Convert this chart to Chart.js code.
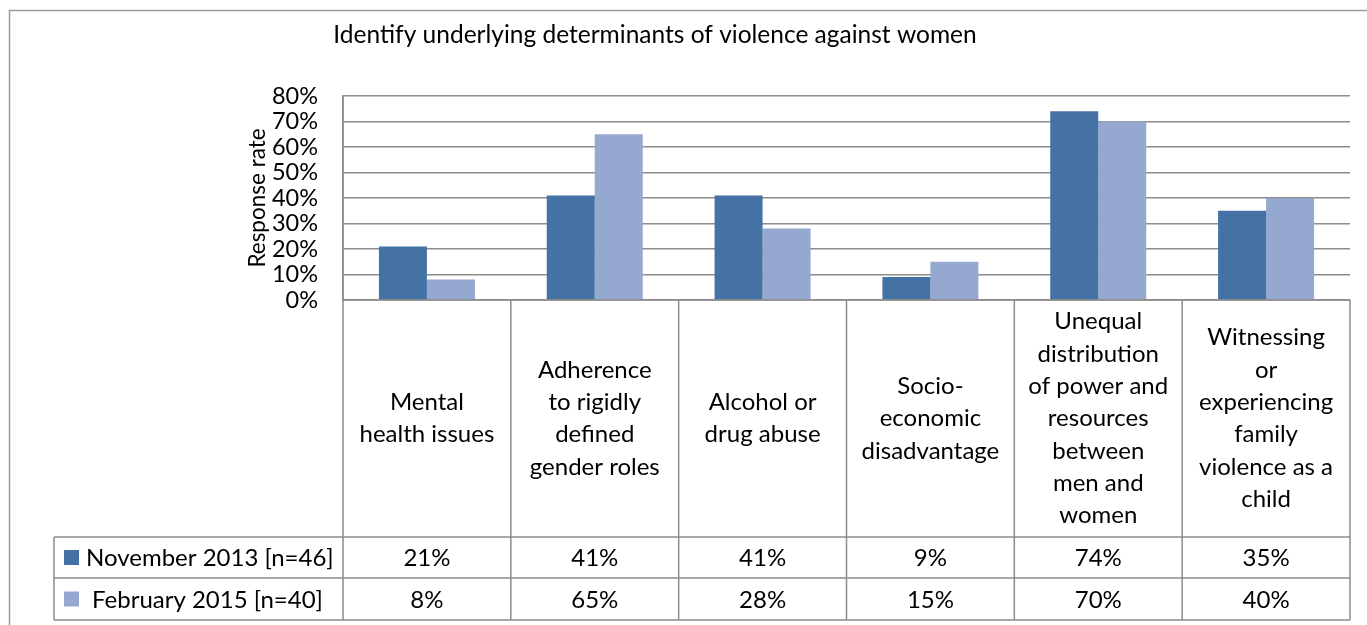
<!DOCTYPE html>
<html>
<head>
<meta charset="utf-8">
<script src="https://cdn.jsdelivr.net/npm/chart.js@4.4.1/dist/chart.umd.min.js"></script>
<style>
  html, body { margin: 0; padding: 0; background: #fff; }
  #wrap { width: 1367px; height: 625px; position: relative; }
</style>
</head>
<body>
<div id="wrap"><canvas id="chart"></canvas></div>
<script>
const chartTitle = 'Identify underlying determinants of violence against women';
const yTitle = 'Response rate';
const categories = [
  ['Mental', 'health issues'],
  ['Adherence', 'to rigidly', 'defined', 'gender roles'],
  ['Alcohol or', 'drug abuse'],
  ['Socio-', 'economic', 'disadvantage'],
  ['Unequal', 'distribution', 'of power and', 'resources', 'between', 'men and', 'women'],
  ['Witnessing', 'or', 'experiencing', 'family', 'violence as a', 'child']
];
const seriesNames = ['November 2013 [n=46]', 'February 2015 [n=40]'];
const nov2013 = [21, 41, 41, 9, 74, 35];
const feb2015 = [8, 65, 28, 15, 70, 40];
const yMax = 80;
const yStep = 10;

const FONT = 'Lato, "Liberation Sans", sans-serif';
const colors = ['#4472a4', '#95a9d0'];
const lineColor = '#8c8c8c';

// draws title, outer frame and the data table under the plot
const tablePlugin = {
  id: 'dataTable',
  afterDraw(chart) {
    const ctx = chart.ctx;
    const x = chart.scales.x;
    const area = chart.chartArea;
    const n = categories.length;
    const cw = (x.right - x.left) / n;
    const rows = [area.bottom, 537, 578, 620];
    const keyLeft = 54;

    ctx.save();
    // outer frame
    ctx.strokeStyle = '#9a9a9a';
    ctx.lineWidth = 1.5;
    ctx.strokeRect(9.5, 10.5, 1500, 800);

    // title
    ctx.fillStyle = '#000';
    ctx.font = '24.5px ' + FONT;
    ctx.textAlign = 'center';
    ctx.textBaseline = 'middle';
    ctx.fillText(chartTitle, 655, 35);

    // table lines
    ctx.strokeStyle = lineColor;
    ctx.lineWidth = 1.5;
    ctx.beginPath();
    for (let i = 0; i <= n; i++) {
      const px = x.left + i * cw;
      ctx.moveTo(px, i === 0 ? area.top : rows[0]);
      ctx.lineTo(px, rows[3]);
    }
    ctx.moveTo(x.left, rows[0]); ctx.lineTo(x.right, rows[0]);
    for (let r = 1; r < rows.length; r++) {
      ctx.moveTo(keyLeft, rows[r]); ctx.lineTo(x.right, rows[r]);
    }
    ctx.moveTo(keyLeft, rows[1]); ctx.lineTo(keyLeft, rows[3]);
    ctx.stroke();

    // category labels
    ctx.fillStyle = '#000';
    ctx.font = '24px ' + FONT;
    const lh = 32.3;
    categories.forEach((lines, i) => {
      const cx = x.getPixelForValue(i);
      const cy = (rows[0] + rows[1]) / 2;
      const y0 = cy - (lines.length - 1) * lh / 2;
      lines.forEach((t, j) => ctx.fillText(t, cx, y0 + j * lh));
    });

    // value rows + legend keys
    chart.data.datasets.forEach((ds, r) => {
      const cy = (rows[r + 1] + rows[r + 2]) / 2;
      ds.data.forEach((v, i) => {
        ctx.textAlign = 'center';
        ctx.fillText(v + '%', x.getPixelForValue(i), cy + 1);
      });
      ctx.fillStyle = ds.backgroundColor;
      ctx.fillRect(64, cy - 7.5, 15, 15);
      ctx.fillStyle = '#000';
      ctx.textAlign = 'left';
      ctx.fillText(ds.label, r === 0 ? 86 : 92, cy + 1);
    });
    ctx.restore();
  }
};

new Chart(document.getElementById('chart'), {
  type: 'bar',
  data: {
    labels: categories,
    datasets: [
      { label: seriesNames[0], data: nov2013, backgroundColor: colors[0] },
      { label: seriesNames[1], data: feb2015, backgroundColor: colors[1] }
    ]
  },
  options: {
    responsive: true,
    maintainAspectRatio: false,
    animation: false,
    layout: { padding: { left: 243, right: 17, top: 96, bottom: 325 } },
    datasets: { bar: { categoryPercentage: 0.572, barPercentage: 1.0 } },
    plugins: {
      legend: { display: false },
      title: { display: false },
      tooltip: { enabled: false }
    },
    scales: {
      x: { display: false },
      y: {
        min: 0,
        max: yMax,
        afterFit: s => { s.width = 100; },
        ticks: {
          stepSize: yStep,
          autoSkip: false,
          padding: 25,
          color: '#000',
          font: { family: FONT, size: 23.5 },
          callback: v => v + '%'
        },
        grid: { color: lineColor, lineWidth: 1.5, drawTicks: false },
        border: { display: true, color: lineColor, width: 1.5 },
        title: {
          display: true,
          text: yTitle,
          color: '#000',
          font: { family: FONT, size: 22.5 },
          padding: { top: 1, bottom: 0 }
        }
      }
    }
  },
  plugins: [tablePlugin]
});
</script>
</body>
</html>
